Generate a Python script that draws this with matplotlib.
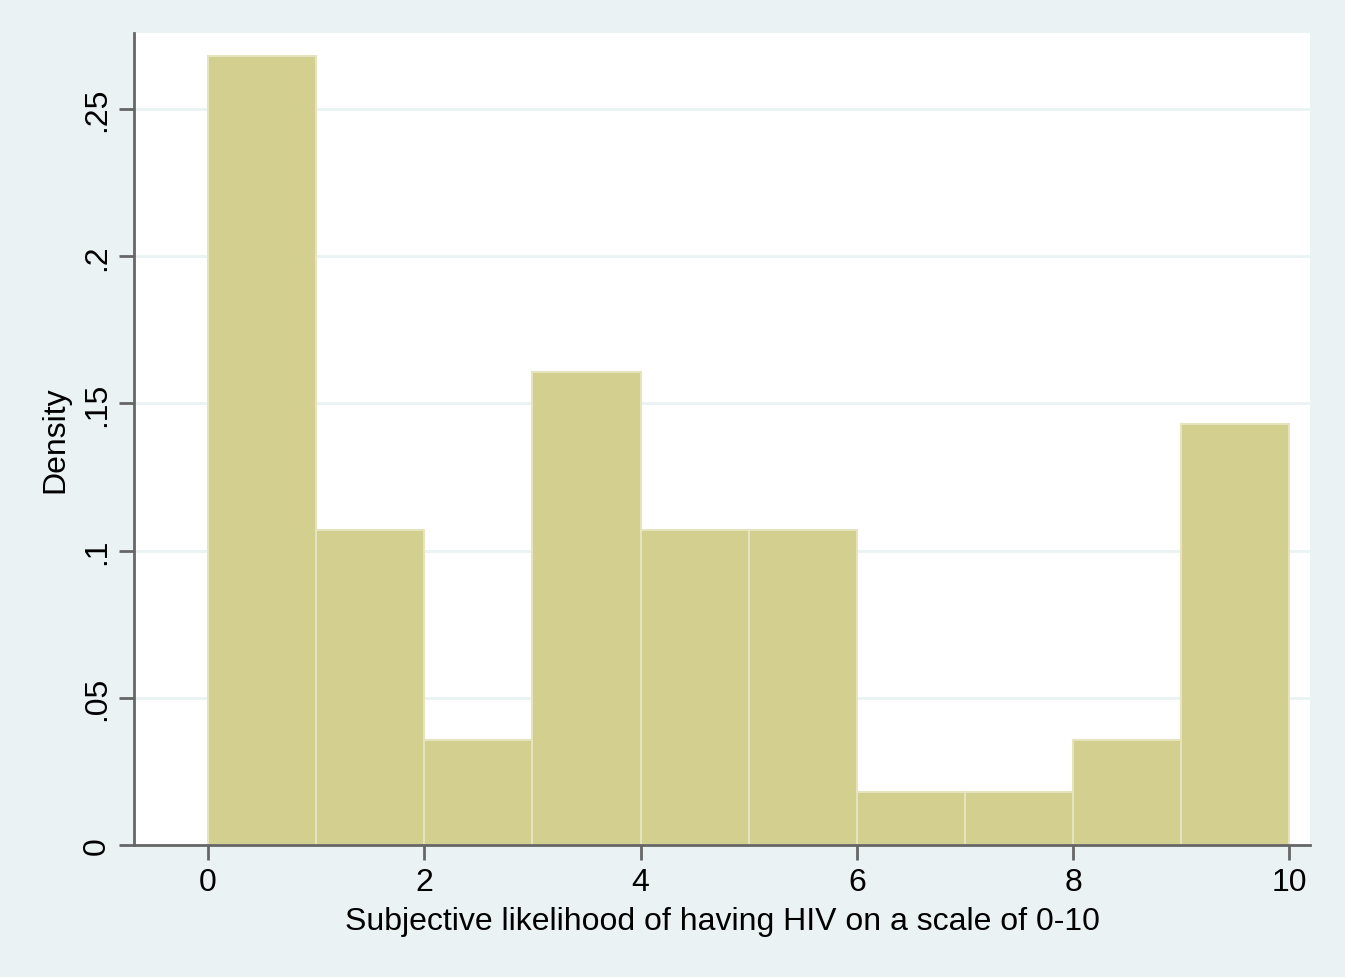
import numpy as np
import matplotlib.pyplot as plt

plt.rcParams['font.family'] = ['Liberation Sans', 'DejaVu Sans']

# histogram of subjective HIV likelihood, 0-10 scale, unit-width bins
bin_edges = [0, 1, 2, 3, 4, 5, 6, 7, 8, 9, 10]
density = [0.2679, 0.1071, 0.0357, 0.1607, 0.1071, 0.1071, 0.0179, 0.0179, 0.0357, 0.1429]
x_ticks = [0, 2, 4, 6, 8, 10]
y_ticks = [0, 0.05, 0.1, 0.15, 0.2, 0.25]
y_tick_labels = ['0', '.05', '.1', '.15', '.2', '.25']

bg = '#eaf2f3'
fig = plt.figure(figsize=(13.45, 9.78), dpi=100, facecolor=bg)
ax = fig.add_axes([0.0996, 0.135, 0.8744, 0.83])
ax.set_facecolor('white')

lefts = np.array(bin_edges[:-1])
widths = np.diff(bin_edges)
ax.bar(lefts, density, width=widths, align='edge', color='#d3cf8e',
       edgecolor='#e6e4bf', linewidth=1.5, zorder=2)

ax.set_xlim(-0.685, 10.19)
ax.set_ylim(0, 0.2758)
ax.set_xticks(x_ticks)
ax.set_yticks(y_ticks)
ax.set_yticklabels(y_tick_labels, rotation=90, va='center')
ax.yaxis.grid(True, color=bg, linewidth=2, zorder=0)
ax.set_axisbelow(True)

for side in ['top', 'right']:
    ax.spines[side].set_visible(False)
for side in ['left', 'bottom']:
    ax.spines[side].set_color('#666666')
    ax.spines[side].set_linewidth(2)
ax.tick_params(axis='both', length=11, width=2, color='#666666',
               labelsize=23, pad=5)

ax.set_xlabel('Subjective likelihood of having HIV on a scale of 0-10',
              fontsize=23, labelpad=6)
ax.set_ylabel('Density', fontsize=23, labelpad=8)

fig.savefig('out.png', dpi=100, facecolor=bg)
